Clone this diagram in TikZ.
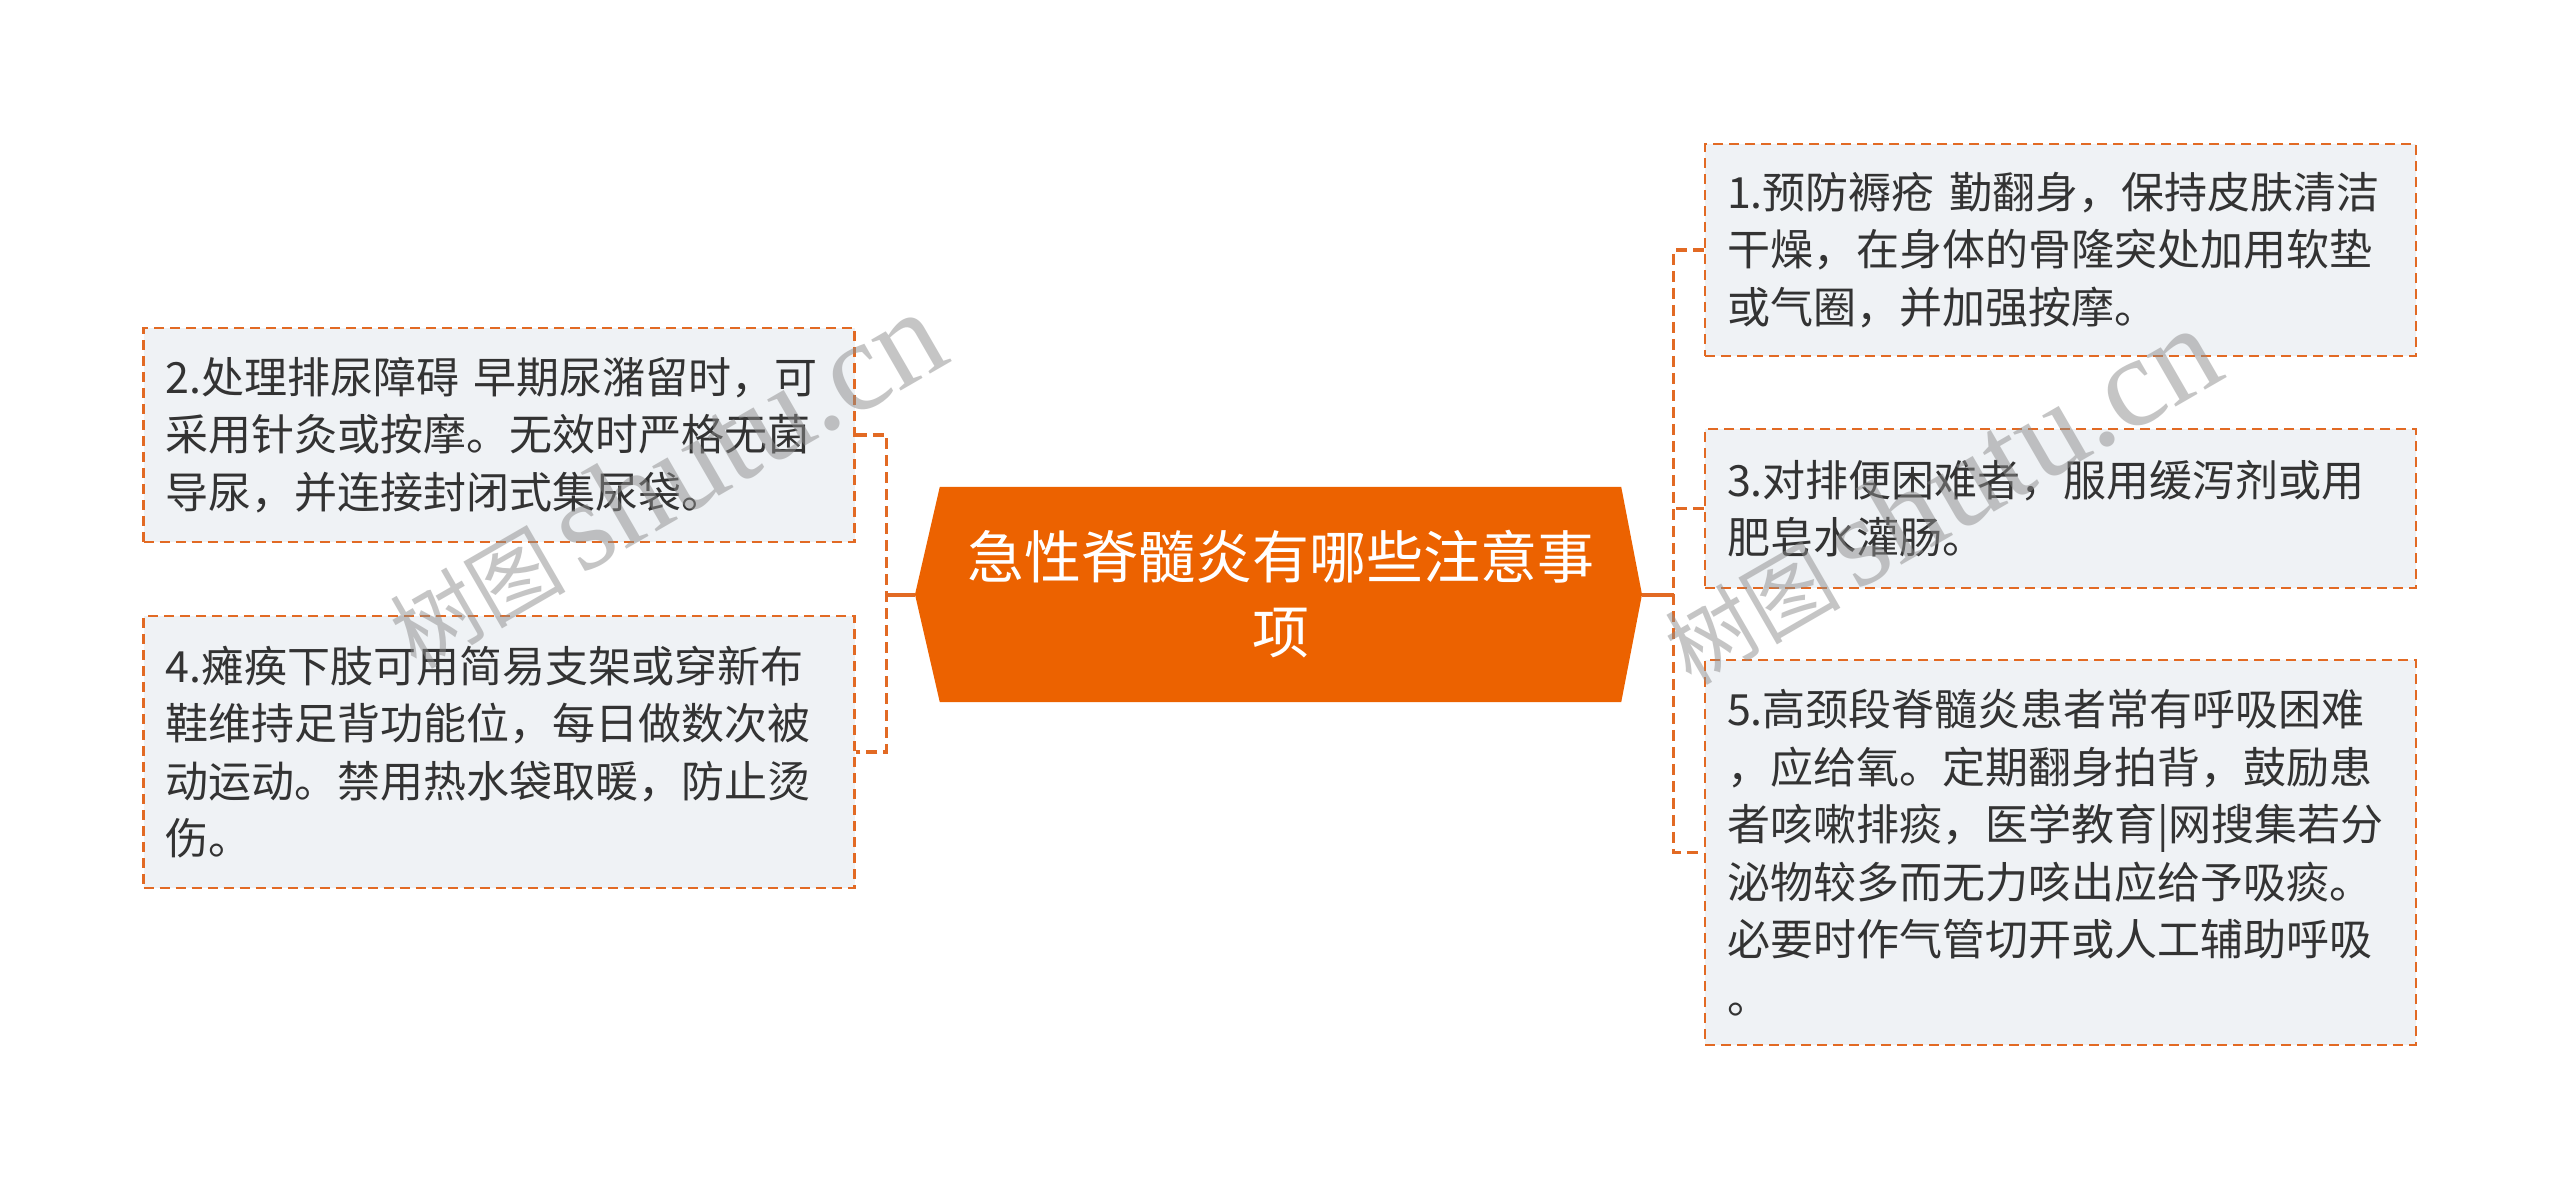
\documentclass[tikz,border=0pt]{standalone}
\usepackage{fontspec}
\setmainfont{Noto Sans CJK SC}
\newfontfamily\wmlatin{Liberation Serif}
\usetikzlibrary{backgrounds}
\definecolor{mainor}{RGB}{236,98,0}
\definecolor{lineor}{RGB}{226,106,36}
\definecolor{boxfill}{RGB}{239,242,245}
\definecolor{txtcol}{RGB}{51,51,51}
\definecolor{wmcol}{RGB}{140,140,140}
\begin{document}
\begin{tikzpicture}[x=1pt,y=-1pt,
  itembox/.style={draw=lineor, fill=boxfill, line width=2.5pt,
    dash pattern=on 10pt off 6pt, minimum width=711pt, text width=667pt,
    inner xsep=22pt, inner ysep=0pt, align=left,
    font=\fontsize{43}{57.5}\selectfont, text=txtcol},
  conn/.style={draw=lineor, line width=3.5pt, dash pattern=on 11pt off 6pt},
  connsolid/.style={draw=lineor, line width=4pt},
  wmark/.style={text=wmcol, opacity=0.5, rotate=30, inner sep=0pt}
]
\useasboundingbox (0,0) rectangle (2560,1189);

% central topic
\node[text=white, font=\fontsize{57}{75}\selectfont, align=center,
  minimum width=681pt, minimum height=215pt, inner sep=0pt]
  (c) at (1280.5,594.5) {急性脊髓炎有哪些注意事\\项};
\coordinate (tipL) at (915,594.5);
\coordinate (tipR) at (1642,594.5);

% items left
\node[itembox, minimum height=214pt] (b2) at (499,435)
  {2.处理排尿障碍 早期尿潴留时，可\\采用针灸或按摩。无效时严格无菌\\导尿，并连接封闭式集尿袋。};
\node[itembox, minimum height=272pt] (b4) at (499,752)
  {4.瘫痪下肢可用简易支架或穿新布\\鞋维持足背功能位，每日做数次被\\动运动。禁用热水袋取暖，防止烫\\伤。};

% items right
\node[itembox, minimum height=212pt] (b1) at (2060.5,250)
  {1.预防褥疮 勤翻身，保持皮肤清洁\\干燥，在身体的骨隆突处加用软垫\\或气圈，并加强按摩。};
\node[itembox, minimum height=159pt] (b3) at (2060.5,508.5)
  {3.对排便困难者，服用缓泻剂或用\\肥皂水灌肠。};
\node[itembox, minimum height=385pt] (b5) at (2060.5,852.5)
  {5.高颈段脊髓炎患者常有呼吸困难\\，应给氧。定期翻身拍背，鼓励患\\者咳嗽排痰，医学教育|网搜集若分\\泌物较多而无力咳出应给予吸痰。\\必要时作气管切开或人工辅助呼吸\\。};

\begin{scope}[on background layer]
  \fill[white] (0,0) rectangle (2560,1189);
  \fill[mainor] (tipL) -- (c.north west) -- (c.north east) -- (tipR)
    -- (c.south east) -- (c.south west) -- cycle;
\end{scope}

% connectors
\coordinate (jl) at (886.5,594.5);
\coordinate (jr) at (1673.5,594.5);
\draw[connsolid] (tipL) -- (jl);
\draw[conn] (b2.east) -- (b2.east -| jl) -- (b4.east -| jl) -- (b4.east);
\draw[connsolid] (tipR) -- (jr);
\draw[conn] (b1.west) -- (b1.west -| jr) -- (b5.west -| jr) -- (b5.west);
\draw[conn] (b3.west) -- (b3.west -| jr);

% watermarks
\node[wmark] (w1) at (665,480)
  {\fontsize{88}{88}\selectfont 树图\,{\wmlatin\fontsize{128}{128}\selectfont shutu.cn}};
\node[wmark] (w2) at (1940,496)
  {\fontsize{88}{88}\selectfont 树图\,{\wmlatin\fontsize{128}{128}\selectfont shutu.cn}};
\end{tikzpicture}
\end{document}
